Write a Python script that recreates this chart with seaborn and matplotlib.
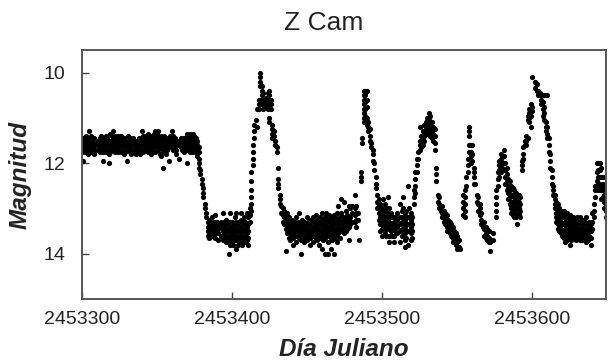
import pandas as pd
import seaborn as sns
import matplotlib
matplotlib.use('Agg')
import matplotlib.pyplot as plt

# Z Cam light curve
# (day counted from JD 2453300, list of magnitudes seen that day)
JD0 = 2453300

standstill = [
    (0, [11.5, 11.55, 11.6, 11.7, 11.75]), (1, [11.45, 11.6, 11.65, 11.95]),
    (2, [11.5, 11.6, 11.7, 11.75]), (3, [11.4, 11.55, 11.65]),
    (4, [11.45, 11.6, 11.7, 11.8]), (5, [11.3, 11.5, 11.65, 11.75]),
    (6, [11.4, 11.55, 11.6, 11.7]), (7, [11.5, 11.65, 11.75]),
    (8, [11.45, 11.55, 11.7, 11.8]), (9, [11.6, 11.7]),
    (11, [11.5, 11.6, 11.7]), (12, [11.45, 11.55, 11.65, 11.75]),
    (13, [11.4, 11.55, 11.7]), (14, [11.5, 11.6, 11.75, 11.95]),
    (15, [11.45, 11.55, 11.65, 11.7]), (16, [11.4, 11.5, 11.6, 11.75]),
    (17, [11.45, 11.55, 11.7]), (18, [11.5, 11.6, 11.8, 12.0]),
    (19, [11.35, 11.5, 11.65, 11.75]), (20, [11.4, 11.5, 11.6, 11.7]),
    (21, [11.3, 11.45, 11.55, 11.65]), (22, [11.4, 11.5, 11.6, 11.75]),
    (23, [11.45, 11.55, 11.7]), (24, [11.4, 11.5, 11.6, 11.65, 11.75]),
    (25, [11.45, 11.55, 11.7]), (26, [11.4, 11.5, 11.6, 11.75]),
    (27, [11.5, 11.6, 11.7]), (28, [11.45, 11.55, 11.65, 11.8]),
    (29, [11.5, 11.6, 11.75]), (30, [11.55, 11.65, 11.95]),
    (31, [11.4, 11.5, 11.6, 11.7]), (32, [11.45, 11.55, 11.65, 11.75]),
    (33, [11.5, 11.6, 11.8]), (34, [11.45, 11.55, 11.7]),
    (35, [11.5, 11.6, 11.75]), (36, [11.55, 11.65, 11.8]),
    (37, [11.5, 11.6, 11.7]), (38, [11.45, 11.55, 11.65, 11.75]),
    (39, [11.5, 11.6, 11.8]), (40, [11.3, 11.45, 11.55, 11.7]),
    (41, [11.4, 11.5, 11.6, 11.75]), (42, [11.45, 11.55, 11.65]),
    (43, [11.4, 11.5, 11.6, 11.7]), (44, [11.35, 11.45, 11.55, 11.65, 11.75]),
    (45, [11.4, 11.5, 11.6, 11.7]), (46, [11.45, 11.55, 11.65, 11.8]),
    (47, [11.4, 11.5, 11.6, 11.7]), (48, [11.35, 11.45, 11.55, 11.65]),
    (49, [11.3, 11.4, 11.5, 11.6, 11.75]), (50, [11.35, 11.45, 11.55, 11.65]),
    (51, [11.3, 11.4, 11.5, 11.6, 11.7]), (52, [11.45, 11.55, 11.65, 11.8]),
    (53, [11.4, 11.5, 11.6, 11.85]), (54, [11.45, 11.55, 11.7, 12.1]),
    (55, [11.4, 11.5, 11.6, 11.75]), (56, [11.45, 11.55, 11.65, 11.8]),
    (57, [11.5, 11.6, 11.7]), (58, [11.45, 11.55, 11.65, 11.95]),
    (59, [11.4, 11.5, 11.6]), (60, [11.3, 11.45, 11.55, 11.65]),
    (61, [11.4, 11.5, 11.6, 11.7]), (62, [11.45, 11.55, 11.65]),
    (63, [11.5, 11.6, 11.7, 11.8]), (65, [11.5, 11.6, 11.9]),
    (66, [11.45, 11.55, 11.65]), (67, [11.5, 11.6, 11.7]),
    (68, [11.45, 11.55, 11.65, 11.75]), (69, [11.5, 11.6, 11.7]),
    (70, [11.35, 11.5, 11.6, 11.7, 12.0]), (71, [11.4, 11.5, 11.6, 11.7]),
    (72, [11.35, 11.45, 11.55, 11.65, 11.75]), (73, [11.4, 11.5, 11.6, 11.7]),
    (74, [11.35, 11.45, 11.55, 11.65, 11.75]), (75, [11.4, 11.5, 11.6, 11.7]),
    (76, [11.45, 11.55, 11.65, 11.75]), (77, [11.5, 11.6, 11.7, 11.85]),
    (78, [11.65, 11.75, 11.9, 12.0, 12.1]), (79, [12.15, 12.25]),
    (80, [12.35, 12.45]), (81, [12.55, 12.65, 12.75]),
    (82, [12.9, 13.0]), (83, [13.1, 13.2]),
]

low_1 = [
    (84, [13.3, 13.4, 13.5, 13.6]), (85, [13.25, 13.35, 13.45, 13.55, 13.65]),
    (86, [13.3, 13.4, 13.5, 13.6]), (87, [13.2, 13.35, 13.45, 13.55]),
    (88, [13.3, 13.4, 13.5, 13.6]), (89, [13.15, 13.35, 13.45, 13.55, 13.65]),
    (90, [13.3, 13.4, 13.5]), (91, [13.35, 13.45, 13.55, 13.7]),
    (93, [13.3, 13.4, 13.6]), (94, [13.1, 13.35, 13.5, 13.7]),
    (95, [13.3, 13.4, 13.55, 13.65]), (96, [13.25, 13.45, 13.6, 13.75]),
    (97, [13.35, 13.5, 13.65]), (98, [13.3, 13.45, 13.6, 14.0]),
    (99, [13.1, 13.4, 13.55, 13.7, 13.8]), (100, [13.3, 13.45, 13.6, 13.75]),
    (101, [13.35, 13.5, 13.65, 13.8]), (102, [13.2, 13.4, 13.55, 13.7]),
    (103, [13.1, 13.3, 13.45, 13.6, 13.9]), (104, [13.35, 13.5, 13.65, 13.8]),
    (105, [13.3, 13.45, 13.6, 13.75]), (106, [13.1, 13.25, 13.4, 13.55, 13.7]),
    (107, [13.3, 13.45, 13.6, 13.8]), (108, [13.2, 13.35, 13.5, 13.65]),
    (109, [13.3, 13.45, 13.6, 13.75]), (110, [13.1, 13.4, 13.55, 13.7]),
    (111, [13.2, 13.35, 13.5, 13.65, 13.8]), (112, [13.0, 13.15, 13.3]),
]

outburst_1 = [
    (113, [12.2, 12.4, 12.6, 12.75, 12.9, 13.05]), (114, [11.6, 11.75, 11.9, 12.05]),
    (115, [11.15, 11.3, 11.45]), (116, [11.05]), (117, [10.8, 11.2]),
    (118, [10.6, 10.7, 10.8]), (119, [10.0, 10.1, 10.2, 10.3, 10.6]),
    (120, [10.3, 10.4, 10.5, 10.6, 10.7]), (121, [10.45, 10.6, 10.7, 10.8]),
    (122, [10.6, 10.7]), (123, [10.55, 10.65, 10.75]),
    (124, [10.45, 10.6, 10.8]), (125, [10.4, 10.5, 10.6, 10.7, 11.0, 11.1]),
    (126, [10.6, 10.7, 10.8]), (127, [11.15, 11.25, 11.35, 11.45]),
    (128, [11.3, 11.4]), (129, [11.5, 11.6]), (130, [11.65, 11.75]),
    (131, [12.1, 12.35, 12.45, 12.55]), (132, [12.7, 12.8, 12.9]),
    (133, [12.95, 13.1]), (134, [13.0, 13.15, 13.3]),
    (135, [13.05, 13.2, 13.35]), (136, [13.15, 13.3, 13.45, 13.95]),
    (137, [13.1, 13.25, 13.4, 13.55]),
]

low_2 = [
    (138, [13.2, 13.35, 13.5, 13.65]), (139, [13.3, 13.4, 13.55, 13.7]),
    (140, [13.25, 13.45, 13.6]), (141, [13.35, 13.5, 13.65, 13.8]),
    (142, [13.3, 13.4, 13.55]), (143, [13.2, 13.35, 13.5, 13.6, 13.75]),
    (144, [13.3, 13.45, 13.6]), (145, [13.1, 13.4, 13.5, 13.65]),
    (146, [13.35, 13.55, 13.7, 14.0]), (147, [13.25, 13.4, 13.5, 13.6]),
    (148, [13.3, 13.45, 13.6, 13.75]), (149, [13.35, 13.5, 13.65]),
    (150, [13.2, 13.4, 13.55, 13.7]), (151, [13.3, 13.45, 13.6]),
    (152, [13.25, 13.35, 13.5, 13.65, 13.8]), (153, [13.3, 13.45, 13.55]),
    (154, [13.2, 13.4, 13.5, 13.6, 13.75]), (155, [13.3, 13.45, 13.6]),
    (156, [13.15, 13.35, 13.5, 13.65]), (157, [13.25, 13.4, 13.55, 13.7]),
    (158, [13.3, 13.45, 13.6, 13.8]), (159, [13.2, 13.35, 13.5, 13.65]),
    (160, [13.1, 13.3, 13.45, 13.6, 13.9]), (161, [13.25, 13.4, 13.55, 13.7]),
    (162, [13.2, 13.35, 13.5, 13.65, 14.0]), (163, [13.1, 13.3, 13.45, 13.6]),
    (164, [13.25, 13.4, 13.55, 13.75, 14.0]), (165, [13.15, 13.3, 13.45, 13.6]),
    (166, [13.2, 13.35, 13.5, 13.65, 13.9]), (167, [13.25, 13.4, 13.55, 13.7]),
    (168, [13.15, 13.3, 13.45, 13.6, 14.0]), (169, [13.2, 13.35, 13.5, 13.65]),
    (170, [13.1, 13.3, 13.45, 13.6, 13.75]), (171, [12.95, 13.25, 13.4, 13.55]),
    (172, [13.2, 13.35, 13.5, 13.65]), (173, [12.8, 13.1, 13.3, 13.45]),
    (174, [13.2, 13.35, 13.5]), (175, [12.85, 13.25, 13.4, 13.55]),
    (176, [13.05, 13.2, 13.35, 13.5]), (177, [13.15, 13.3, 13.45]),
    (178, [12.95, 13.25, 13.4, 13.7]), (179, [13.0, 13.2, 13.35]),
    (180, [12.95, 13.1, 13.3]), (182, [12.7, 13.0, 13.15, 13.3]),
    (183, [12.95, 13.1, 13.25, 13.4]), (184, [13.1, 13.25]),
    (185, [13.7]), (186, [12.2, 12.3, 12.4]),
]

outburst_2 = [
    (187, [11.45, 11.55]), (188, [10.4, 10.5, 10.6, 10.7, 10.8, 10.9, 11.0, 11.1]),
    (189, [10.4, 10.5, 10.65, 10.8, 10.95]), (190, [10.4, 10.6, 10.75, 11.0, 11.15]),
    (191, [11.1, 11.2, 11.3]), (192, [11.25, 11.4, 11.5]),
    (193, [11.55, 11.65]), (194, [11.7, 11.8, 11.95]),
    (195, [12.0, 12.15]), (196, [12.3, 12.45, 12.55]),
    (197, [12.7, 12.85, 13.0]), (198, [12.8, 12.95, 13.1, 13.25]),
    (199, [12.9, 13.05, 13.2, 13.35, 13.5]), (200, [13.0, 13.15, 13.3, 13.45, 13.6]),
    (201, [12.8, 13.1, 13.25, 13.4]), (202, [12.9, 13.05, 13.2, 13.35, 13.55]),
    (203, [13.0, 13.2, 13.3, 13.45, 13.6]), (204, [12.75, 13.1, 13.25, 13.4]),
    (205, [13.0, 13.15, 13.3, 13.45, 13.6, 13.75]), (206, [13.1, 13.2, 13.35, 13.5]),
    (207, [13.2, 13.35, 13.45, 13.6]), (208, [13.2, 13.3, 13.45, 13.6, 13.75]),
    (209, [13.2, 13.35, 13.5]), (210, [13.1, 13.25, 13.4, 13.55]),
    (212, [12.9, 13.2, 13.35, 13.5, 13.75]), (213, [13.05, 13.2, 13.3, 13.45, 13.6]),
    (214, [12.75, 13.0, 13.2, 13.35, 13.5]), (215, [13.1, 13.25, 13.4, 13.55, 13.7, 13.85]),
    (216, [13.05, 13.2, 13.35, 13.5, 13.65]), (217, [12.5, 13.2, 13.35, 13.5, 13.8]),
    (218, [13.0, 13.2, 13.35, 13.5]), (219, [13.1, 13.25, 13.4, 13.55, 13.7]),
    (220, [13.2, 13.35, 13.5, 13.65]),
]

outburst_3 = [
    (221, [12.6, 12.75, 12.9]), (222, [12.2, 12.35, 12.5, 12.65]),
    (223, [11.9, 12.05, 12.2]), (224, [11.75, 11.9]),
    (225, [11.2, 11.5, 11.6, 11.7]), (226, [11.4, 11.55, 11.65]),
    (227, [11.3, 11.45, 11.6]), (228, [11.15, 11.3, 11.4, 11.5]),
    (229, [11.1, 11.2, 11.35]), (230, [11.0, 11.15, 11.3]),
    (231, [10.9, 11.05, 11.2, 11.35]), (232, [10.95, 11.1, 11.25, 11.4]),
    (233, [11.1, 11.2, 11.3, 11.45]), (234, [11.2, 11.35, 11.5]),
    (235, [11.25, 11.4, 11.55, 11.7]), (236, [12.1, 12.25, 12.4]),
    (237, [12.7, 12.85]), (238, [12.75, 12.9, 13.0]),
    (239, [12.95, 13.05]), (240, [12.95, 13.1, 13.2]),
    (241, [13.05, 13.2, 13.3]), (242, [13.1, 13.25, 13.35]),
    (243, [13.15, 13.3, 13.4, 13.5]), (244, [13.25, 13.4, 13.5]),
    (245, [13.3, 13.45, 13.55]), (246, [13.35, 13.5, 13.6]),
    (247, [13.4, 13.55, 13.65, 13.75]), (248, [13.5, 13.6, 13.7]),
    (249, [13.55, 13.65, 13.8]), (250, [13.6, 13.75, 13.9]),
    (251, [13.7, 13.85]), (252, [13.9]),
]

outburst_4 = [
    (254, [12.7, 12.85, 13.0, 13.15]), (255, [12.6, 12.75, 12.9, 13.05, 13.2]),
    (256, [12.3, 12.5]), (257, [11.9, 12.05, 12.2]),
    (258, [11.2, 11.3, 11.4, 11.6, 11.75]), (259, [11.6, 11.75, 11.85, 12.0]),
    (260, [11.6, 11.8, 11.95]), (261, [12.1, 12.2, 12.3, 12.45]),
    (262, [12.45]), (263, [12.7, 12.85]),
    (264, [12.75, 12.9, 13.05]), (265, [12.9, 13.0, 13.15]),
    (266, [13.1, 13.25, 13.35]), (267, [13.3, 13.4]),
    (268, [13.3, 13.45, 13.6]), (269, [13.4, 13.55, 13.65]),
    (270, [13.45, 13.6, 13.7]), (271, [13.5, 13.65, 13.75]),
    (272, [13.75, 13.95]), (274, [13.55, 13.7]),
]

outburst_5 = [
    (276, [12.6, 12.75, 12.9, 13.05, 13.2]), (277, [12.2, 12.35, 12.5]),
    (278, [11.95, 12.05, 12.15, 12.3]), (279, [11.8, 11.9, 12.05, 12.2]),
    (280, [11.85, 12.0, 12.1]), (281, [11.7, 11.85, 12.0, 12.15]),
    (282, [12.0, 12.15, 12.3, 12.45]), (283, [12.1, 12.25, 12.4, 12.6]),
    (284, [12.35, 12.5, 12.65, 12.8]), (285, [12.4, 12.6, 12.75, 12.9]),
    (286, [12.5, 12.7, 12.85, 13.0, 13.1]), (287, [12.55, 12.7, 12.85, 13.0, 13.15]),
    (288, [12.6, 12.75, 12.9, 13.05, 13.2]), (289, [12.65, 12.8, 12.95, 13.1, 13.2]),
    (290, [12.7, 12.85, 13.0, 13.15, 13.35]), (291, [12.7, 12.85, 13.0, 13.15]),
    (292, [12.75, 12.9, 13.05, 13.2]),
]

outburst_6 = [
    (293, [11.95, 12.05, 12.15]), (294, [11.65, 11.8, 11.9]),
    (295, [11.5, 11.6]), (296, [11.4, 11.5, 11.6]),
    (297, [10.95, 11.05, 11.45]), (298, [10.8, 10.9, 11.0, 11.1]),
    (299, [10.7, 10.8, 10.95, 11.2]), (300, [10.1, 10.75, 10.85]),
    (302, [10.2, 10.35]), (303, [10.25, 10.4]),
    (304, [10.4, 10.5]), (305, [10.45, 10.5]),
    (306, [10.5, 10.6, 10.7]), (307, [10.5, 10.65, 10.8, 10.95]),
    (308, [10.5, 10.75, 10.9, 11.05]), (309, [10.5, 11.1, 11.2, 11.3]),
    (310, [10.5, 11.2, 11.35, 11.45]), (311, [11.45, 11.6, 11.75]),
    (312, [11.8, 11.95, 12.1]), (313, [12.15, 12.3, 12.45]),
    (314, [12.5, 12.6, 12.7]), (315, [12.7, 12.8, 12.9, 13.0]),
    (316, [12.85, 13.0, 13.1, 13.2, 13.3]), (317, [12.9, 13.05, 13.2, 13.35, 13.45]),
    (318, [13.0, 13.15, 13.25, 13.4, 13.5]), (319, [13.05, 13.2, 13.3, 13.45, 13.55]),
    (320, [13.1, 13.2, 13.35, 13.5, 13.6]), (321, [13.05, 13.2, 13.35, 13.5, 13.65]),
    (322, [13.15, 13.3, 13.45, 13.6, 13.75]), (323, [13.1, 13.25, 13.4, 13.55, 13.7]),
    (324, [13.2, 13.35, 13.5, 13.65]), (325, [13.15, 13.3, 13.45, 13.6, 13.8]),
    (326, [13.25, 13.4, 13.55, 13.7]), (327, [13.2, 13.35, 13.5, 13.6]),
    (328, [13.3, 13.45, 13.55, 13.65]), (329, [13.25, 13.4, 13.5, 13.7]),
    (330, [13.2, 13.35, 13.45, 13.6]), (331, [13.3, 13.45, 13.55, 13.65]),
    (332, [13.2, 13.35, 13.5, 13.6, 13.7]), (333, [13.3, 13.4, 13.55, 13.7]),
    (334, [13.25, 13.35, 13.5, 13.6]), (335, [13.3, 13.45, 13.55, 13.65]),
    (336, [13.2, 13.35, 13.5, 13.6, 13.75]), (337, [13.35, 13.45, 13.55, 13.7]),
    (338, [13.3, 13.4, 13.5, 13.6]), (339, [13.35, 13.5, 13.65, 13.8]),
    (340, [13.1, 13.3, 13.45]),
]

rise_end = [
    (341, [12.9, 13.05, 13.2]), (342, [12.5, 12.6, 12.75]),
    (343, [12.0, 12.2, 12.4, 12.55]), (344, [12.0, 12.15, 12.3, 12.45, 12.6]),
    (345, [12.0, 12.15, 12.3, 12.5]), (346, [12.1, 12.3, 12.45, 12.6, 12.8]),
    (347, [12.3, 12.45, 12.6, 12.75]), (348, [12.5, 12.7, 12.85, 13.0]),
    (349, [12.7, 12.9, 13.05, 13.2]),
]

x_ticks = [2453300, 2453400, 2453500, 2453600]
y_ticks = [10, 12, 14]

rows = []
for segment in [standstill, low_1, outburst_1, low_2, outburst_2,
                outburst_3, outburst_4, outburst_5, outburst_6, rise_end]:
    for day, mags in segment:
        for m in mags:
            rows.append({'jd': JD0 + day, 'mag': m})
df = pd.DataFrame(rows)

sns.set_theme(style='ticks')
plt.rcParams['font.family'] = ['Liberation Sans', 'DejaVu Sans']

fig = plt.figure(figsize=(6.08, 3.64), dpi=100)
ax = fig.add_axes([0.1344, 0.1786, 0.8618, 0.6841])

sns.scatterplot(data=df, x='jd', y='mag', ax=ax, color='black', s=14,
                linewidth=0, marker='o', legend=False)

ax.set_xlim(2453300, 2453649)
ax.set_ylim(15, 9.5)
ax.set_xticks(x_ticks)
ax.set_yticks(y_ticks)
ax.ticklabel_format(axis='x', style='plain', useOffset=False)
ax.tick_params(direction='in', length=5, width=1, color='#444444',
               labelsize=14, labelcolor='#222222')
ax.tick_params(axis='y', pad=12)
ax.tick_params(axis='x', pad=9)

for side in ['left', 'right', 'top', 'bottom']:
    ax.spines[side].set_visible(True)
    ax.spines[side].set_color('#555555')
    ax.spines[side].set_linewidth(1.4)

ax.set_xlabel('Día Juliano', fontsize=17.5, fontweight='bold', style='italic',
              color='#222222', labelpad=7)
ax.set_ylabel('Magnitud', fontsize=17.5, fontweight='bold', style='italic',
              color='#222222', labelpad=8)

fig.text(324 / 608, 1 - 23 / 364, 'Z Cam', ha='center', va='center',
         fontsize=19, color='#222222')

fig.savefig('out.png', dpi=100, facecolor='white')
